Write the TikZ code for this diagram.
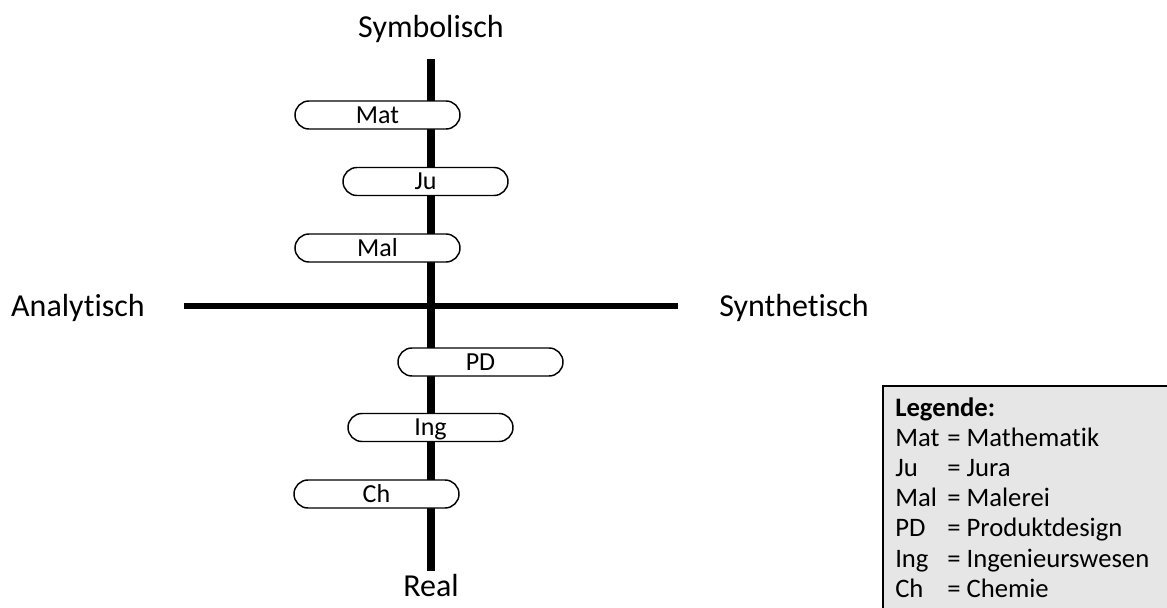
\documentclass[tikz,border=0pt]{standalone}
\usepackage{fontspec}
\setmainfont{Carlito}[Ligatures=NoCommon]
\usetikzlibrary{shapes.misc}
\definecolor{legendgray}{HTML}{E7E6E6}
\tikzset{
  axislabel/.style={font=\fontsize{24}{29}\selectfont, anchor=base, inner sep=0pt},
  field/.style={rounded rectangle, draw, fill=white, line width=1.1pt,
    minimum width=123.75pt, minimum height=21pt, inner sep=0pt,
    text height=14.5pt, text depth=2pt,
    font=\fontsize{19.5}{23}\selectfont},
  legendtext/.style={font=\fontsize{20}{24}\selectfont, anchor=base west, inner sep=0pt},
}
\begin{document}
\begin{tikzpicture}[x=0.75pt,y=-0.75pt]
  \useasboundingbox (0,0) rectangle (1167,607);
  \clip (0,0) rectangle (1167,607);
  % axis labels
  \draw
    (431,37) node[axislabel] (sym){Symbolisch}
    (431,596) node[axislabel] (real){Real}
    (78,316) node[axislabel] (ana){Analytisch}
    (794,316) node[axislabel] (syn){Synthetisch};
  % axes
  \coordinate (top) at (431,59);
  \coordinate (bottom) at (431,571);
  \coordinate (left) at (184,306);
  \coordinate (right) at (678,306);
  \begin{scope}[line width=6pt]
    \draw (top) to (bottom);
    \draw[line width=5pt] (left) to (right);
  \end{scope}
  % subjects on the axis
  \draw
    (377.5,115) node[field] (mat){Mat}
    (425.5,181.5) node[field] (ju){Ju}
    (377.5,248) node[field] (mal){Mal}
    (480.5,362) node[field] (pd){PD}
    (430.5,427.5) node[field] (ing){Ing}
    (376.5,494) node[field] (ch){Ch};
  % legend
  \draw[fill=legendgray, line width=1.1pt] (883,386) rectangle (1190,630);
  \node[legendtext, font=\bfseries\fontsize{20}{24}\selectfont] (leg) at (895,416) {Legende:};
  \foreach \short/\long [count=\i] in {Mat/Mathematik, Ju/Jura, Mal/Malerei,
      PD/Produktdesign, Ing/Ingenieurswesen, Ch/Chemie}
    \node[legendtext] (leg\i) at (895,416+30.2*\i) {\makebox[39pt][l]{\short}= \long};
\end{tikzpicture}
\end{document}
